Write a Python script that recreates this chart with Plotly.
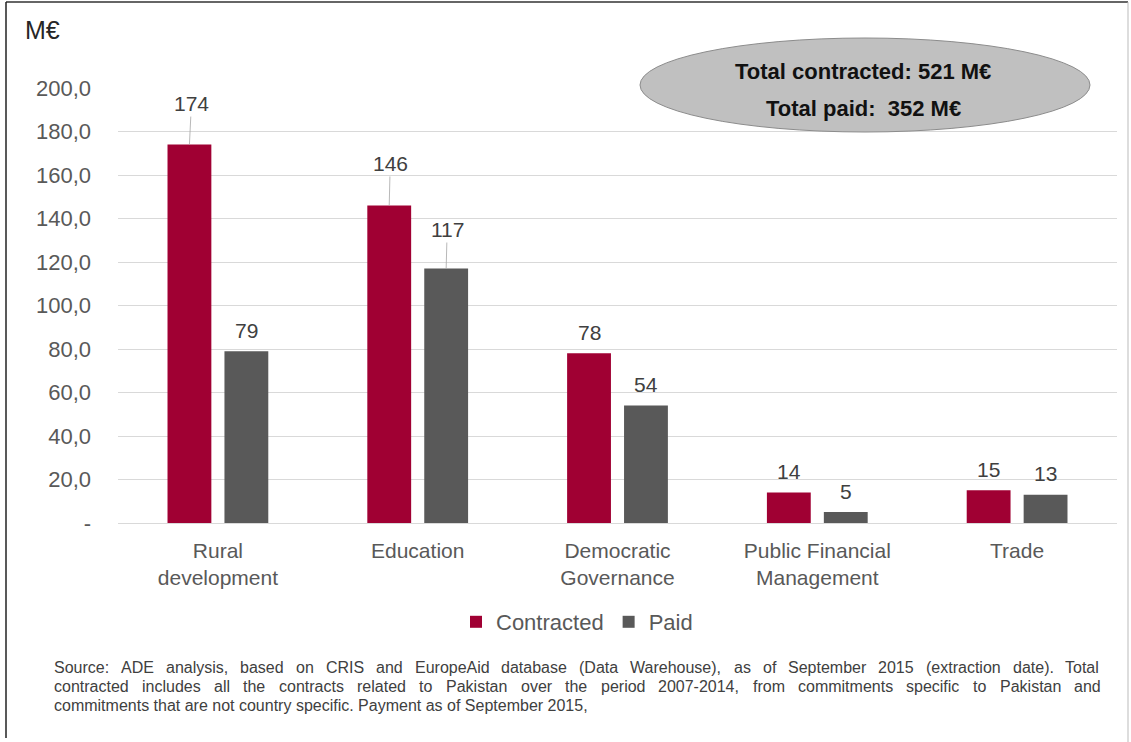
import plotly.graph_objects as go

categories = ["Rural<br>development", "Education", "Democratic<br>Governance",
              "Public Financial<br>Management", "Trade"]
contracted = [174, 146, 78, 14, 15]
paid = [79, 117, 54, 5, 13]
y_ticks = [0, 20, 40, 60, 80, 100, 120, 140, 160, 180, 200]
y_ticktext = ["-", "20,0", "40,0", "60,0", "80,0", "100,0", "120,0", "140,0", "160,0", "180,0", "200,0"]
# labels that use a leader line: (series, index, ax, ay)
leader_labels = [("c", 0, 2, -41), ("c", 1, 1, -42), ("p", 1, 1, -39)]
total_lines = ["Total contracted: 521 M€", "Total paid:  352 M€"]
foot = [
    "Source: ADE analysis, based on CRIS and EuropeAid database (Data Warehouse), as of September 2015 (extraction date). Total",
    "contracted includes all the contracts related to Pakistan over the period 2007-2014, from commitments specific to Pakistan and",
    "commitments that are not country specific. Payment as of September 2015,",
]

W, H = 1131, 742
L, R, T, B = 118, 14, 88, 219
FONT = "Liberation Sans, Arial, sans-serif"
RED = "#A00033"
GREY = "#595959"

fig = go.Figure()
fig.add_trace(go.Bar(name="Contracted", x=categories, y=contracted, marker_color=RED,
                     marker_line_width=0))
fig.add_trace(go.Bar(name="Paid", x=categories, y=paid, marker_color=GREY,
                     marker_line_width=0))

bargap = 0.43
slot_px = (1 - bargap) * (W - L - R) / len(categories) / 2
offsets = {"c": -slot_px / 2, "p": slot_px / 2}
series = {"c": contracted, "p": paid}
leader_set = {(s, i): (ax, ay) for s, i, ax, ay in leader_labels}
LBL_FONT = dict(family=FONT, size=21, color="#404040")

annotations = []
for s in ("c", "p"):
    for i, v in enumerate(series[s]):
        if (s, i) in leader_set:
            ax, ay = leader_set[(s, i)]
            annotations.append(dict(x=categories[i], y=v, xref="x", yref="y",
                                    xshift=offsets[s], text=str(v), showarrow=True,
                                    arrowhead=0, arrowwidth=0.8, arrowcolor="#a6a6a6",
                                    ax=ax, ay=ay, standoff=0, font=LBL_FONT))
        else:
            annotations.append(dict(x=categories[i], y=v, xref="x", yref="y",
                                    xshift=offsets[s], yshift=21, yanchor="middle",
                                    text=str(v), showarrow=False, font=LBL_FONT))


def px(xp):
    return (xp - L) / (W - L - R)


def py(yp):
    return (H - B - yp) / (H - T - B)


annotations.append(dict(x=px(23), y=py(30), xref="paper", yref="paper", xanchor="left",
                        yanchor="middle", text="M€", showarrow=False,
                        font=dict(family=FONT, size=25, color="#262626")))
for k, t in enumerate(total_lines):
    annotations.append(dict(x=px(863), y=py(71 + 37 * k), xref="paper", yref="paper",
                            xanchor="center", yanchor="middle", text=f"<b>{t}</b>",
                            showarrow=False, font=dict(family=FONT, size=22, color="#111111")))

# Arial / Liberation Sans advance widths (per 1000 em) for justified footnote
AW = {" ": 278, ",": 278, ".": 278, ":": 278, "(": 333, ")": 333, "-": 333}
AW.update({c: w for c, w in zip("abcdefghijklmnopqrstuvwxyz",
                                [556, 556, 500, 556, 556, 278, 556, 556, 222, 222, 500, 222, 833,
                                 556, 556, 556, 556, 333, 500, 278, 556, 500, 722, 500, 500, 500])})
AW.update({c: w for c, w in zip("ABCDEFGHIJKLMNOPQRSTUVWXYZ",
                                [667, 667, 722, 722, 667, 611, 778, 722, 278, 500, 667, 556, 833,
                                 722, 778, 667, 778, 722, 667, 611, 722, 667, 944, 667, 667, 611])})
AW.update({c: 556 for c in "0123456789"})

FOOT_SIZE = 16
FOOT_FONT = dict(family=FONT, size=FOOT_SIZE, color="#404040")
X_LEFT, X_RIGHT = 53, 1100


def tw(s):
    return sum(AW.get(c, 556) for c in s) * FOOT_SIZE / 1000


for k, line in enumerate(foot):
    yk = py(667 + 19 * k)
    if k < len(foot) - 1:
        words = line.split(" ")
        widths = [tw(w) for w in words]
        gap = (X_RIGHT - X_LEFT - sum(widths)) / (len(words) - 1)
        xpos = X_LEFT
        for w, wd in zip(words, widths):
            annotations.append(dict(x=px(xpos), y=yk, xref="paper", yref="paper",
                                    xanchor="left", yanchor="middle", text=w, showarrow=False,
                                    borderpad=0, font=FOOT_FONT))
            xpos += wd + gap
    else:
        annotations.append(dict(x=px(X_LEFT), y=yk, xref="paper", yref="paper",
                                xanchor="left", yanchor="middle", text=line, showarrow=False,
                                borderpad=0, font=FOOT_FONT))

shapes = [
    dict(type="circle", xref="paper", yref="paper", x0=px(640), x1=px(1090),
         y0=py(132), y1=py(38), fillcolor="#c0c0c0", line=dict(color="#8c8c8c", width=1),
         layer="above"),
    dict(type="line", xref="paper", yref="paper", x0=px(6), x1=px(1128), y0=py(2), y1=py(2),
         line=dict(color="#333333", width=1.5)),
    dict(type="line", xref="paper", yref="paper", x0=px(6), x1=px(6), y0=py(2), y1=py(738),
         line=dict(color="#222222", width=1.5)),
    dict(type="line", xref="paper", yref="paper", x0=px(1128), x1=px(1128), y0=py(2), y1=py(742),
         line=dict(color="#bbbbbb", width=1)),
]

fig.update_layout(
    width=W, height=H,
    margin=dict(l=L, r=R, t=T, b=B),
    paper_bgcolor="white", plot_bgcolor="white",
    barmode="group", bargap=bargap, bargroupgap=0.23,
    font=dict(family=FONT, color=GREY),
    showlegend=True,
    legend=dict(orientation="h", x=px(577), xanchor="center", y=py(622), yanchor="middle",
                font=dict(family=FONT, size=22, color=GREY), itemwidth=30,
                traceorder="normal"),
    annotations=annotations,
    shapes=shapes,
)
fig.update_xaxes(showgrid=False, showline=False, ticks="", ticklabelstandoff=13,
                 tickfont=dict(family=FONT, size=21, color=GREY))
fig.update_yaxes(range=[0, 200], tickvals=y_ticks, ticktext=y_ticktext,
                 showgrid=True, gridcolor="#d9d9d9", gridwidth=1, zeroline=True,
                 zerolinecolor="#d9d9d9", zerolinewidth=1, showline=False, ticks="",
                 ticklabelstandoff=26,
                 tickfont=dict(family=FONT, size=22, color=GREY))

fig.write_html("out.html")
